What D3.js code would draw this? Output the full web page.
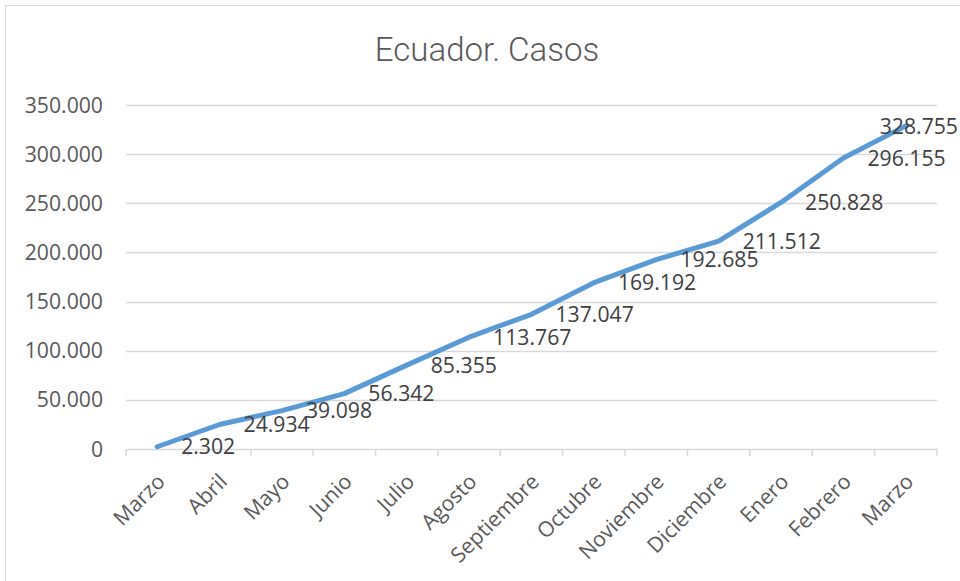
<!DOCTYPE html>
<html>
<head>
<meta charset="utf-8">
<script src="https://cdn.jsdelivr.net/npm/d3@7"></script>
<style>
  html, body { margin: 0; padding: 0; background: #fff; }
  svg { display: block; }
</style>
</head>
<body>
<svg id="chart" width="960" height="581"></svg>
<script>
const months = ["Marzo","Abril","Mayo","Junio","Julio","Agosto","Septiembre","Octubre","Noviembre","Diciembre","Enero","Febrero","Marzo"];
const casos = [2302, 24934, 39098, 56342, 85355, 113767, 137047, 169192, 192685, 211512, 250828, 296155, 328755];
const yTicks = [0, 50000, 100000, 150000, 200000, 250000, 300000, 350000];
const title = "Ecuador. Casos";

const W = 960, H = 581;
const svg = d3.select("#chart");
const fmt = v => d3.format(",")(v).replace(/,/g, ".");
const font = "'Open Sans', 'Noto Sans', sans-serif";
const fs = 21.2;

// outer chart border (cropped on right/bottom)
svg.append("rect").attr("x", 5.5).attr("y", 5.5).attr("width", 1000).attr("height", 1000)
  .attr("fill", "#fff").attr("stroke", "#d9d9d9").attr("stroke-width", 1);

const plot = { left: 126, right: 937, top: 105, bottom: 449 };
const idx = months.map((m, i) => i);
const x = d3.scaleBand().domain(idx).range([plot.left, plot.right]).paddingInner(0).paddingOuter(0);
const y = d3.scaleLinear().domain([0, 350000]).range([plot.bottom, plot.top]);

// title
svg.append("text").attr("x", 487).attr("y", 61).attr("text-anchor", "middle")
  .attr("font-family", "'Liberation Sans Narrow', 'Roboto', sans-serif").attr("font-weight", 300)
  .attr("font-size", 33).attr("fill", "#595959").text(title);

// gridlines
svg.append("g").selectAll("line").data(yTicks.filter(d => d > 0)).join("line")
  .attr("x1", plot.left).attr("x2", plot.right)
  .attr("y1", d => Math.round(y(d)) + 0.5).attr("y2", d => Math.round(y(d)) + 0.5)
  .attr("stroke", "#d9d9d9").attr("stroke-width", 1.5);

// y labels
svg.append("g").selectAll("text").data(yTicks).join("text")
  .attr("x", 103).attr("y", d => y(d)).attr("dy", "0.36em").attr("text-anchor", "end")
  .attr("font-family", font).attr("font-size", fs).attr("fill", "#595959")
  .text(d => fmt(d));

// x axis
const xAxis = d3.axisBottom(x).tickSize(0).tickFormat("");
const gx = svg.append("g").attr("transform", `translate(0,${plot.bottom})`).call(xAxis);
gx.select(".domain").attr("stroke", "#d9d9d9").attr("stroke-width", 1.5);
const bounds = idx.map(i => x(i)).concat([x(idx[idx.length - 1]) + x.bandwidth()]);
gx.selectAll(".tk").data(bounds).join("line").attr("class", "tk")
  .attr("x1", d => d).attr("x2", d => d).attr("y1", 0).attr("y2", 7)
  .attr("stroke", "#d9d9d9").attr("stroke-width", 1.5);

// x labels
svg.append("g").selectAll("text").data(idx).join("text")
  .attr("transform", i => `translate(${x(i) + x.bandwidth() / 2 + 9},${483}) rotate(-45)`)
  .attr("text-anchor", "end")
  .attr("font-family", font).attr("font-size", fs).attr("fill", "#595959")
  .text(i => months[i]);

// line
const line = d3.line().x((d, i) => x(i) + x.bandwidth() / 2).y(d => y(d));
svg.append("path").datum(casos).attr("d", line)
  .attr("fill", "none").attr("stroke", "#5b9bd5").attr("stroke-width", 5)
  .attr("stroke-linejoin", "round").attr("stroke-linecap", "round");

// data labels
const lbl = svg.append("g").selectAll("text").data(casos).join("text")
  .attr("x", (d, i) => x(i) + x.bandwidth() / 2 + 24).attr("y", d => y(d)).attr("dy", "0.36em")
  .attr("font-family", font).attr("font-size", fs).attr("fill", "#404040")
  .text(d => fmt(d));
lbl.each(function () {
  const bb = this.getBBox();
  if (bb.x + bb.width > W - 2) d3.select(this).attr("x", W - 2 - bb.width);
});
</script>
</body>
</html>
